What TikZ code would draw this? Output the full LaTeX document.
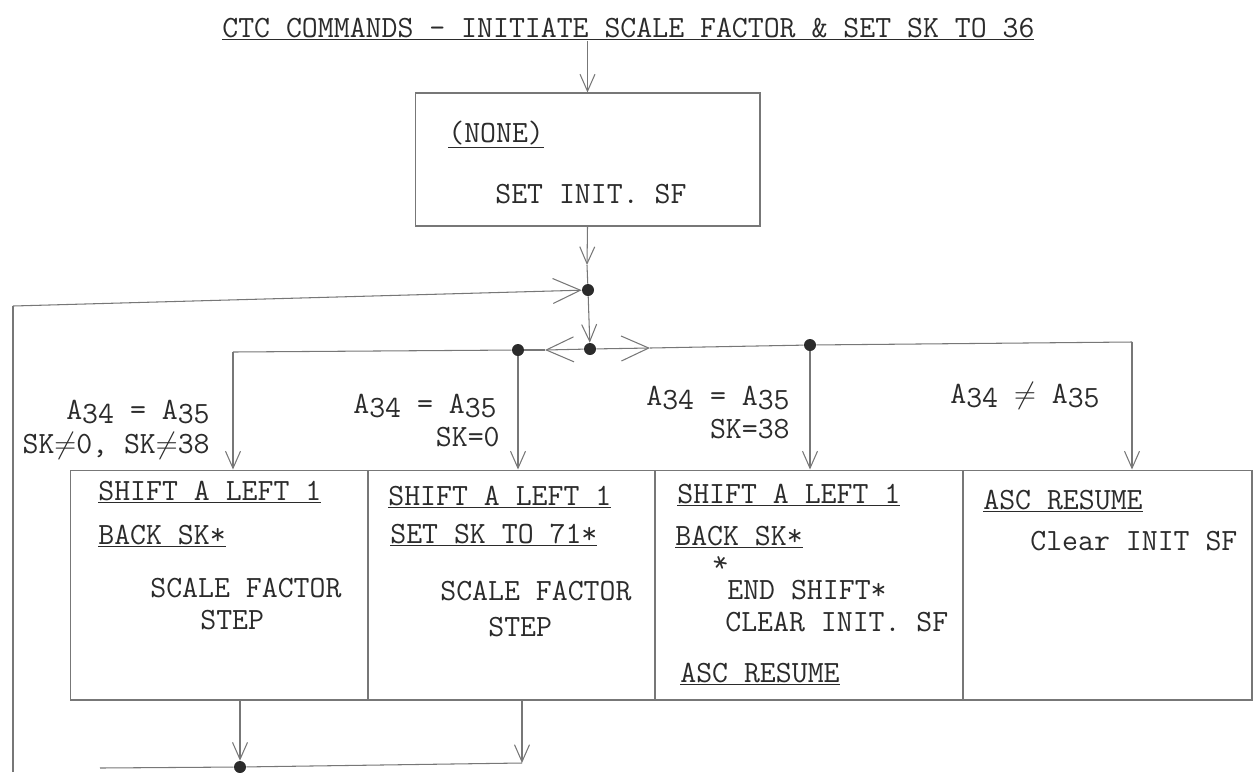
\documentclass[tikz,border=0pt]{standalone}
\usepackage{tikz}
\usetikzlibrary{arrows.meta}
\definecolor{ink}{HTML}{2B2B2B}
\definecolor{rulec}{HTML}{777777}
\newcommand{\lowr}[1]{\raisebox{-0.35ex}{#1}}
\tikzset{
  box/.style={draw=rulec,line width=0.6pt,inner sep=0pt},
  txt/.style={inner sep=0pt,anchor=base west,text=ink,
    font=\ttfamily\fontsize{17.6}{20}\selectfont},
  cond/.style={txt,anchor=base east},
  wire/.style={draw=rulec,line width=0.6pt},
  flow/.style={wire,-{Straight Barb[length=3.4mm,width=3mm]}},
  flowh/.style={wire,-{Straight Barb[length=5.5mm,width=5mm]}},
  dot/.style={circle,fill=ink,inner sep=0pt,minimum size=2.4mm},
}

\begin{document}
\begin{tikzpicture}[x=0.02cm,y=-0.02cm]
  \useasboundingbox (0,0) rectangle (1258,772);
  % title and first box
  \node[txt](title) at (222,37){\underline{CTC COMMANDS - INITIATE SCALE FACTOR \& SET SK TO 36}};
  \node[box,minimum width=6.9cm,minimum height=2.66cm](box1) at (587.5,159.5){};
  \node[txt](none) at (448,142){\underline{(NONE)}};
  \node[txt](init) at (495,203){SET INIT. SF};
  % junctions
  \node[dot](d1) at (588,290){};
  \node[dot](d2) at (590,349){};
  \node[dot](dL) at (518,350){};
  \node[dot](dR) at (810,345){};
  \node[dot](d4) at (240,767){};
  \coordinate (m1) at (587,265);
  \coordinate (mL) at (545,350);
  \coordinate (mR) at (650,348);
  \coordinate (cA) at (233,352);
  \coordinate (cD) at (1132,342);
  \coordinate (cB) at (522,763);
  \coordinate (lt) at (13,306);
  \coordinate (lb) at (13,772);
  \coordinate (bl) at (100,768);
  % the four cases
  \node[box,minimum width=5.96cm,minimum height=4.6cm](boxA) at (219,585){};
  \node[box,minimum width=5.74cm,minimum height=4.6cm](boxB) at (511.5,585){};
  \node[box,minimum width=6.16cm,minimum height=4.6cm](boxC) at (809,585){};
  \node[box,minimum width=5.78cm,minimum height=4.6cm](boxD) at (1107.5,585){};
  \node[txt](a1) at (98,500){\underline{SHIFT A LEFT 1}};
  \node[txt](a2) at (98,544){\underline{BACK SK*}};
  \node[txt](a3) at (150,597){SCALE FACTOR};
  \node[txt](a4) at (200,629){STEP};
  \node[txt](b1) at (388,505){\underline{SHIFT A LEFT 1}};
  \node[txt](b2) at (390,543){\underline{SET SK TO 71*}};
  \node[txt](b3) at (440,600){SCALE FACTOR};
  \node[txt](b4) at (488,636){STEP};
  \node[txt](c1) at (677,503){\underline{SHIFT A LEFT 1}};
  \node[txt](c2) at (675,545){\underline{BACK SK*}};
  \node[txt,rotate=20](cs) at (716,575){*};
  \node[txt](c3) at (727,599){END SHIFT*};
  \node[txt](c4) at (725,631){CLEAR INIT. SF};
  \node[txt](c5) at (680,682){\underline{ASC RESUME}};
  \node[txt](e1) at (983,509){\underline{ASC RESUME}};
  \node[txt](e2) at (1030,550){Clear INIT SF};
  % conditions
  \node[cond](k1) at (210,419){A\lowr{34} = A\lowr{35}};
  \node[cond](k1b) at (210,453){SK$\neq$0, SK$\neq$38};
  \node[cond](k2) at (497,413){A\lowr{34} = A\lowr{35}};
  \node[cond](k2b) at (500,446){SK=0};
  \node[cond](k3) at (790,405){A\lowr{34} = A\lowr{35}};
  \node[cond](k3b) at (790,438){SK=38};
  \node[txt](k4) at (950,403){A\lowr{34} $\neq$ A\lowr{35}};
  % connectors
  \draw[flow](title.south -| box1.north)--(box1.north);
  \draw[flow](box1.south)--(m1); \draw[wire](m1)--(d1);
  \draw[wire](lb)--(lt); \draw[flowh](lt)--(d1);
  \draw[flow](d1)--(d2);
  \draw[flowh](d2)--(mL); \draw[wire](mL)--(dL);
  \draw[flowh](d2)--(mR); \draw[wire](mR)--(dR);
  \draw[wire](dL)--(cA); \draw[flow](cA)--(cA |- boxA.north);
  \draw[flow](dL)--(dL |- boxB.north);
  \draw[flow](dR)--(dR |- boxC.north);
  \draw[wire](dR)--(cD); \draw[flow](cD)--(cD |- boxD.north);
  \draw[flow](boxA.south -| d4)--(d4);
  \draw[flow](boxB.south -| cB)--(cB);
  \draw[wire](cB)--(d4)--(bl);
\end{tikzpicture}
\end{document}
